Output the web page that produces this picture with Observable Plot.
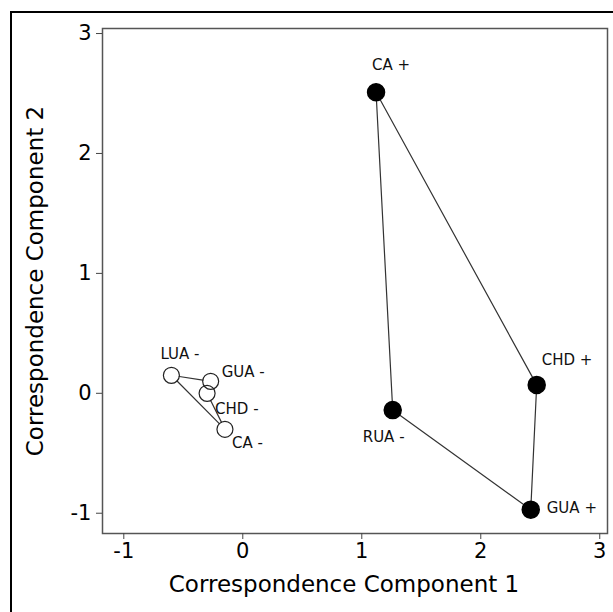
<!DOCTYPE html>
<html>
<head>
<meta charset="utf-8">
<script src="https://cdn.jsdelivr.net/npm/d3@7"></script>
<script src="https://cdn.jsdelivr.net/npm/@observablehq/plot@0.6"></script>
<style>
  html, body { margin: 0; padding: 0; background: #fff; }
  #wrap { position: relative; width: 613px; height: 612px; overflow: hidden; }
  #border { position: absolute; left: 10px; top: 11px; width: 700px; height: 700px;
            border-left: 2px solid #000; border-top: 2px solid #000; pointer-events: none; }
</style>
</head>
<body>
<div id="wrap"><div id="border"></div></div>
<script>
// ---- data ----
const labels = ["CA +", "CHD +", "GUA +", "RUA -", "LUA -", "GUA -", "CHD -", "CA -"];
const comp1  = [1.12, 2.47, 2.42, 1.26, -0.60, -0.27, -0.30, -0.15];
const comp2  = [2.51, 0.07, -0.97, -0.14, 0.15, 0.10, 0.00, -0.30];
const group  = ["A", "A", "A", "A", "B", "B", "B", "B"];
const hullA  = ["CA +", "CHD +", "GUA +", "RUA -"];
const hullB  = ["LUA -", "GUA -", "CHD -", "CA -"];
const xTicks = [-1, 0, 1, 2, 3];
const yTicks = [-1, 0, 1, 2, 3];
const xTitle = "Correspondence Component 1";
const yTitle = "Correspondence Component 2";

// label placement (layout only)
const labelOffsets = {
  "CA +": [-4, -27], "CHD +": [5, -25], "GUA +": [16, -1], "RUA -": [-30, 27],
  "LUA -": [-11, -21], "GUA -": [11, -9], "CHD -": [8, 16], "CA -": [7, 14]
};

const pts = labels.map((l, i) => ({label: l, x: comp1[i], y: comp2[i], g: group[i]}));
const byLabel = Object.fromEntries(pts.map(p => [p.label, p]));
function ring(order) {
  return order.map((l, i) => {
    const a = byLabel[l], b = byLabel[order[(i + 1) % order.length]];
    return {x1: a.x, y1: a.y, x2: b.x, y2: b.y, g: a.g};
  });
}
const segs = ring(hullA).concat(ring(hullB));

const font = "DejaVu Sans, Verdana, sans-serif";
const fmt = d => d < 0 ? "-" + Math.abs(d) : String(d);

const chart = Plot.plot({
  width: 613,
  height: 612,
  marginLeft: 102,
  marginRight: 6,
  marginTop: 28,
  marginBottom: 79,
  style: {fontFamily: font, fontSize: "14px", background: "transparent", color: "#000"},
  x: {domain: [-1.179, 3.065]},
  y: {domain: [-1.169, 3.042]},
  marks: [
    Plot.frame({stroke: "#555", strokeWidth: 1.5}),
    Plot.axisX({ticks: xTicks, tickSize: 6, tickPadding: 4, fontSize: 21, label: null, stroke: "#444", tickFormat: fmt}),
    Plot.axisY({ticks: yTicks, tickSize: 6, tickPadding: 5, fontSize: 21, label: null, stroke: "#444", tickFormat: fmt}),
    Plot.text([xTitle], {frameAnchor: "bottom", dx: -11, dy: 51, fontSize: 23, lineAnchor: "middle", textAnchor: "middle"}),
    Plot.text([yTitle], {frameAnchor: "left", dx: -67, rotate: -90, fontSize: 23, lineAnchor: "middle", textAnchor: "middle"}),
    Plot.arrow(segs, {x1: "x1", y1: "y1", x2: "x2", y2: "y2", headLength: 0, insetStart: 8, insetEnd: 8, stroke: "#333", strokeWidth: 1.2}),
    Plot.dot(pts.filter(d => d.g === "A"), {x: "x", y: "y", r: 8.5, fill: "#000", stroke: "#000"}),
    Plot.dot(pts.filter(d => d.g === "B"), {x: "x", y: "y", r: 8, fill: "none", stroke: "#222", strokeWidth: 1.2}),
    ...pts.map(p => Plot.text([p], {x: "x", y: "y", text: "label", textAnchor: "start", lineAnchor: "middle",
      dx: labelOffsets[p.label][0], dy: labelOffsets[p.label][1], fontSize: 15, fill: "#111"}))
  ]
});
document.getElementById("wrap").appendChild(chart);
chart.style.position = "absolute";
chart.style.left = "0px";
chart.style.top = "0px";
</script>
</body>
</html>
